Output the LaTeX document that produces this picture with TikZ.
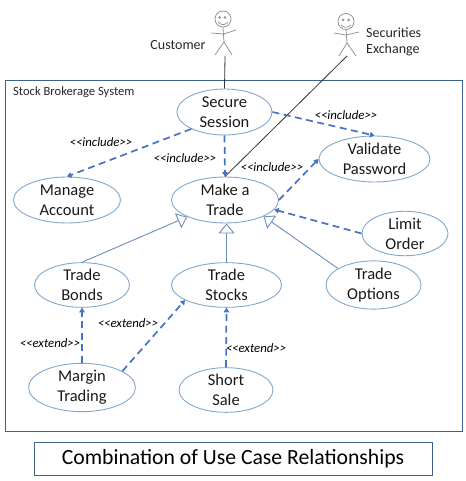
\documentclass[tikz,border=0pt]{standalone}
\usepackage{fontspec}
\setmainfont{Carlito}
\usetikzlibrary{arrows.meta,shapes.geometric}
\definecolor{uc}{HTML}{7FA8CC}
\definecolor{dep}{HTML}{4472C4}
\definecolor{gen}{HTML}{6C8EBB}
\definecolor{frame}{HTML}{3F6288}
\definecolor{stick}{HTML}{8A8A8A}
\tikzset{
  usecase/.style={ellipse,draw=uc,line width=0.9pt,inner sep=0pt,align=center,font=\fontsize{16.5}{20}\selectfont,text=black!90},
  depline/.style={draw=dep,line width=1.7pt,dash pattern=on 7pt off 4.5pt,-{Triangle[length=4.5pt,width=5.5pt,fill=dep]}},
  genline/.style={draw=gen,line width=0.9pt,-{Triangle[open,length=10pt,width=16pt,fill=white]}},
  assoc/.style={draw=black!80,line width=0.8pt},
  stereo/.style={inner sep=0pt,font=\fontsize{12.8}{14}\selectfont\itshape},
  plain/.style={inner sep=0pt,font=\fontsize{14}{17}\selectfont,text=black!85,align=left},
  limb/.style={draw=stick,line width=0.7pt},
  headc/.style={circle,draw=stick,line width=0.7pt,minimum size=16pt,inner sep=0pt},
  framebox/.style={rectangle,draw=frame,line width=0.9pt,inner sep=0pt}
}
\newcommand{\inclabel}{<{}<include>{}>}
\newcommand{\extlabel}{<{}<extend>{}>}
\begin{document}
\begin{tikzpicture}[x=1pt,y=-1pt]
\useasboundingbox (0,0) rectangle (465,481);
\node[framebox,minimum width=457pt,minimum height=351pt] (system) at (233.5,256) {};
\node[framebox,minimum width=398pt,minimum height=33pt,font=\fontsize{21.7}{24}\selectfont] (title) at (233,458.5) {Combination of Use Case Relationships};
\node[plain,anchor=west,font=\fontsize{12.6}{14}\selectfont] (systemlabel) at (13,92) {Stock Brokerage System};

\node[usecase,minimum width=95pt,minimum height=46pt] (secure) at (224.5,112) {Secure\\Session};
\node[usecase,minimum width=111pt,minimum height=46pt] (validate) at (374.5,159) {Validate\\Password};
\node[usecase,minimum width=107pt,minimum height=46pt] (manage) at (67,200) {Manage\\Account};
\node[usecase,minimum width=107pt,minimum height=46pt] (make) at (225,200) {Make a\\Trade};
\node[usecase,minimum width=86pt,minimum height=41pt] (limit) at (405,233.5) {Limit\\Order};
\node[usecase,minimum width=95pt,minimum height=42pt] (bonds) at (82,285) {Trade\\Bonds};
\node[usecase,minimum width=110pt,minimum height=42pt] (stocks) at (226.5,285) {Trade\\Stocks};
\node[usecase,minimum width=95pt,minimum height=42pt] (options) at (373.5,285) {Trade\\Options};
\node[usecase,minimum width=107pt,minimum height=41pt] (margin) at (82,387.5) {Margin\\Trading};
\node[usecase,minimum width=94pt,minimum height=42pt] (short) at (226,390) {Short\\Sale};

% actors
\node[headc] (custhead) at (223,19) {};
\coordinate (custhip) at (224,42);
\coordinate (custfoot) at (225,56);
\draw[limb] (custhead.south) -- (custhip);
\draw[limb] (211,33) -- (224,34) -- (236,30);
\draw[limb] (215,55) -- (custhip) -- (232,55);
\draw[limb] (219.5,17.5) circle (1pt) (225,17.5) circle (1pt);
\draw[limb] (218,22) .. controls (221,25.5) and (225,25.5) .. (228,22);

\node[headc] (exchead) at (346,21.5) {};
\coordinate (exchip) at (347,43);
\coordinate (excfoot) at (347,56);
\draw[limb] (exchead.south) -- (exchip);
\draw[limb] (334,33) -- (346,35) -- (359,32);
\draw[limb] (339,56) -- (exchip) -- (356,56);
\draw[limb] (343,20) circle (1pt) (348.5,20) circle (1pt);
\draw[limb] (341,25) .. controls (344,28) and (348,28) .. (351,25);

\node[plain] (customer) at (178,45) {Customer};
\node[plain,anchor=west] (exchange) at (366,32.5) {Securities};
\node[plain,anchor=west] (exchange2) at (366,49.5) {Exchange};

% associations
\draw[assoc] (custfoot) -- (secure.north);
\draw[assoc] (excfoot) -- (make.north);

% dependencies
\draw[depline] (secure.207.6) -- (manage.north);
\draw[depline] (secure.south) -- (make.north);
\draw[depline] (secure.east) -- (validate.north);
\draw[depline] (make.east) -- (validate.west);
\draw[depline] (limit.west) -- (make.-11.5);
\draw[depline] (margin.north) -- (bonds.south);
\draw[depline] (margin.22.7) -- (stocks.200.8);
\draw[depline] (short.north) -- (stocks.south);

% generalisations
\draw[genline] (bonds.north) -- (make.204);
\draw[genline] (stocks.north) -- (stocks.north |- make.south);
\draw[genline] (options.155) -- (make.-23.6);

% stereotypes
\node[stereo] (l1) at (101,142) {\inclabel};
\node[stereo] (l2) at (185,158) {\inclabel};
\node[stereo] (l3) at (272,167) {\inclabel};
\node[stereo] (l4) at (346,115) {\inclabel};
\node[stereo] (l5) at (128,323) {\extlabel};
\node[stereo] (l6) at (50,343) {\extlabel};
\node[stereo] (l7) at (256,348) {\extlabel};
\end{tikzpicture}
\end{document}
